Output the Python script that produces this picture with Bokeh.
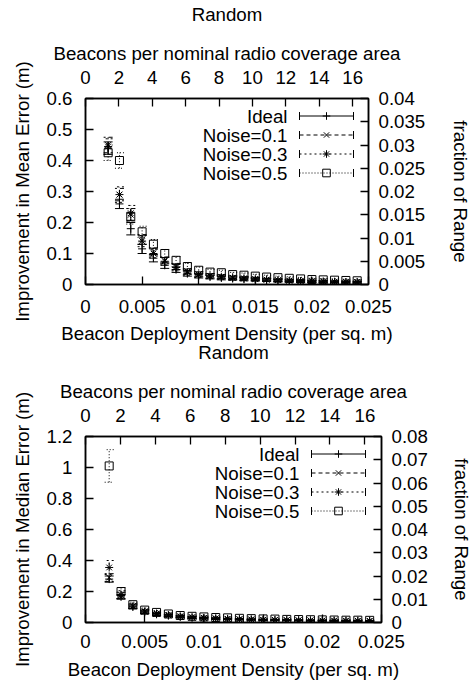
from bokeh.plotting import figure
from bokeh.models import (LinearAxis, Range1d, FixedTicker, ColumnDataSource,
                          Whisker, TeeHead, Legend, LegendItem, Label, BoxAnnotation)
from bokeh.embed import file_html
from bokeh.resources import INLINE

FONT = "Liberation Sans"
FS = "18.7px"

# ---------------- data ----------------
density = [0.002, 0.003, 0.004, 0.005, 0.006, 0.007, 0.008, 0.009, 0.010, 0.011,
           0.012, 0.013, 0.014, 0.015, 0.016, 0.017, 0.018, 0.019, 0.020, 0.021,
           0.022, 0.023, 0.024]
series_names = ["Ideal", "Noise=0.1", "Noise=0.3", "Noise=0.5"]

mean_ideal = [0.44, 0.26, 0.18, 0.115, 0.085, 0.062, 0.048, 0.035, 0.028, 0.024,
              0.021, 0.019, 0.017, 0.015, 0.014, 0.012, 0.011, 0.010, 0.009, 0.008,
              0.008, 0.007, 0.007]
mean_n01 = [0.45, 0.29, 0.225, 0.145, 0.105, 0.078, 0.058, 0.042, 0.033, 0.028,
            0.025, 0.022, 0.020, 0.018, 0.016, 0.014, 0.013, 0.012, 0.011, 0.010,
            0.009, 0.009, 0.008]
mean_n03 = [0.445, 0.29, 0.23, 0.14, 0.10, 0.075, 0.055, 0.040, 0.032, 0.027,
            0.024, 0.021, 0.019, 0.017, 0.015, 0.014, 0.012, 0.011, 0.010, 0.010,
            0.009, 0.008, 0.008]
mean_n05 = [0.425, 0.40, 0.22, 0.17, 0.13, 0.10, 0.078, 0.058, 0.046, 0.040,
            0.038, 0.032, 0.030, 0.027, 0.024, 0.022, 0.020, 0.018, 0.016, 0.015,
            0.014, 0.013, 0.012]

mean_err_ideal = [0.02, 0.015, 0.02, 0.015, 0.012, 0.010, 0.009, 0.008, 0.007, 0.006,
                  0.006, 0.005, 0.005, 0.004, 0.004, 0.004, 0.003, 0.003, 0.003, 0.003,
                  0.003, 0.003, 0.003]
mean_err_n01 = [0.025, 0.02, 0.02, 0.016, 0.013, 0.011, 0.010, 0.009, 0.008, 0.007,
                0.006, 0.006, 0.005, 0.005, 0.004, 0.004, 0.004, 0.004, 0.003, 0.003,
                0.003, 0.003, 0.003]
mean_err_n03 = [0.025, 0.025, 0.025, 0.018, 0.014, 0.012, 0.011, 0.010, 0.009, 0.008,
                0.007, 0.006, 0.006, 0.005, 0.005, 0.005, 0.004, 0.004, 0.004, 0.004,
                0.003, 0.003, 0.003]
mean_err_n05 = [0.025, 0.025, 0.025, 0.018, 0.015, 0.013, 0.012, 0.011, 0.010, 0.009,
                0.008, 0.007, 0.007, 0.006, 0.006, 0.005, 0.005, 0.005, 0.004, 0.004,
                0.004, 0.004, 0.004]

median_ideal = [0.28, 0.165, 0.10, 0.066, 0.053, 0.044, 0.036, 0.031, 0.027, 0.024,
                0.022, 0.020, 0.018, 0.016, 0.015, 0.014, 0.013, 0.012, 0.012, 0.011,
                0.010, 0.010, 0.009]
median_n01 = [0.29, 0.175, 0.105, 0.070, 0.056, 0.046, 0.038, 0.033, 0.029, 0.026,
              0.023, 0.021, 0.019, 0.017, 0.016, 0.015, 0.014, 0.013, 0.012, 0.012,
              0.011, 0.011, 0.010]
median_n03 = [0.355, 0.18, 0.105, 0.072, 0.058, 0.048, 0.040, 0.034, 0.030, 0.027,
              0.024, 0.022, 0.020, 0.018, 0.017, 0.016, 0.015, 0.014, 0.013, 0.012,
              0.012, 0.011, 0.011]
median_n05 = [1.01, 0.20, 0.115, 0.080, 0.065, 0.055, 0.045, 0.040, 0.036, 0.032,
              0.030, 0.027, 0.025, 0.023, 0.022, 0.020, 0.019, 0.018, 0.017, 0.016,
              0.015, 0.015, 0.014]

median_err_ideal = [0.02, 0.015, 0.012, 0.010, 0.008, 0.007, 0.006, 0.005, 0.005, 0.004,
                    0.004, 0.004, 0.003, 0.003, 0.003, 0.003, 0.003, 0.003, 0.003, 0.003,
                    0.003, 0.003, 0.003]
median_err_n01 = [0.025, 0.02, 0.014, 0.011, 0.009, 0.008, 0.007, 0.006, 0.005, 0.005,
                  0.004, 0.004, 0.004, 0.004, 0.003, 0.003, 0.003, 0.003, 0.003, 0.003,
                  0.003, 0.003, 0.003]
median_err_n03 = [0.045, 0.025, 0.015, 0.012, 0.010, 0.008, 0.007, 0.006, 0.006, 0.005,
                  0.005, 0.004, 0.004, 0.004, 0.004, 0.003, 0.003, 0.003, 0.003, 0.003,
                  0.003, 0.003, 0.003]
median_err_n05 = [0.105, 0.025, 0.016, 0.013, 0.011, 0.009, 0.008, 0.007, 0.006, 0.006,
                  0.005, 0.005, 0.005, 0.004, 0.004, 0.004, 0.004, 0.003, 0.003, 0.003,
                  0.003, 0.003, 0.003]

density_ticks = [0, 0.005, 0.01, 0.015, 0.02, 0.025]
density_tick_labels = ["0", "0.005", "0.01", "0.015", "0.02", "0.025"]
beacon_ticks = [0, 2, 4, 6, 8, 10, 12, 14, 16]
beacon_tick_labels = ["0", "2", "4", "6", "8", "10", "12", "14", "16"]
mean_ticks = [0, 0.1, 0.2, 0.3, 0.4, 0.5, 0.6]
mean_tick_labels = ["0", "0.1", "0.2", "0.3", "0.4", "0.5", "0.6"]
mean_frac_ticks = [0, 0.005, 0.01, 0.015, 0.02, 0.025, 0.03, 0.035, 0.04]
mean_frac_tick_labels = ["0", "0.005", "0.01", "0.015", "0.02", "0.025", "0.03", "0.035", "0.04"]
median_ticks = [0, 0.2, 0.4, 0.6, 0.8, 1.0, 1.2]
median_tick_labels = ["0", "0.2", "0.4", "0.6", "0.8", "1", "1.2"]
median_frac_ticks = [0, 0.01, 0.02, 0.03, 0.04, 0.05, 0.06, 0.07, 0.08]
median_frac_tick_labels = ["0", "0.01", "0.02", "0.03", "0.04", "0.05", "0.06", "0.07", "0.08"]

DENSITY_MAX = 0.025
BEACONS_MAX = 16.95

markers = ["cross", "x", "asterisk", "square"]
dashes = ["solid", "4 3", "2 3", "1 2"]


def style_axis(ax, ticks, labels, label_standoff, axis_label_standoff):
    ax.ticker = FixedTicker(ticks=ticks)
    ax.major_label_overrides = {t: l for t, l in zip(ticks, labels)}
    ax.minor_tick_line_color = None
    ax.major_tick_in = 8
    ax.major_tick_out = 0
    ax.major_tick_line_width = 1.3
    ax.major_tick_line_color = "black"
    ax.axis_line_color = "black"
    ax.axis_line_width = 1.5
    ax.major_label_text_font = FONT
    ax.major_label_text_font_size = FS
    ax.major_label_text_color = "black"
    ax.axis_label_text_font = FONT
    ax.axis_label_text_font_size = FS
    ax.axis_label_text_font_style = "normal"
    ax.axis_label_text_color = "black"
    ax.major_label_standoff = label_standoff
    ax.axis_label_standoff = axis_label_standoff


def make_plot(height, border_top, border_bottom, border_right, ylabel, yticks, ylabels,
              ymax, fticks, flabels, fmax, vals, errs, right_als, bottom_ls, bottom_als,
              legend_x, legend_y):
    width = 474
    border_left = 85
    p = figure(width=width, height=height, output_backend="svg", toolbar_location=None,
               x_range=Range1d(0, DENSITY_MAX), y_range=Range1d(0, ymax),
               min_border_left=border_left, min_border_right=border_right,
               min_border_top=border_top, min_border_bottom=border_bottom,
               title=None)
    p.grid.visible = False
    p.outline_line_color = "black"
    p.outline_line_width = 1.5
    p.background_fill_color = "white"
    p.border_fill_alpha = 0

    p.extra_x_ranges = {"beacons": Range1d(0, BEACONS_MAX)}
    p.extra_y_ranges = {"frac": Range1d(0, fmax)}

    p.xaxis.axis_label = "Beacon Deployment Density (per sq. m)"
    style_axis(p.xaxis[0], density_ticks, density_tick_labels, bottom_ls, bottom_als)
    p.yaxis.axis_label = ylabel
    style_axis(p.yaxis[0], yticks, ylabels, 13, 11)

    top = LinearAxis(x_range_name="beacons",
                     axis_label="Beacons per nominal radio coverage area")
    style_axis(top, beacon_ticks, beacon_tick_labels, 15, 4)
    p.add_layout(top, "above")

    # chart title "Random", laid out outermost above the top axis
    title_axis = LinearAxis(x_range_name="beacons", axis_label="Random")
    style_axis(title_axis, [], [], 0, 15)
    title_axis.axis_line_color = None
    title_axis.major_tick_line_color = None
    p.add_layout(title_axis, "above")

    right = LinearAxis(y_range_name="frac", axis_label="fraction of Range")
    style_axis(right, fticks, flabels, 10, right_als)
    p.add_layout(right, "right")

    items = []
    for name, v, e, m, d in zip(series_names, vals, errs, markers, dashes):
        src = ColumnDataSource(dict(
            x=density, y=v,
            lower=[a - b for a, b in zip(v, e)],
            upper=[a + b for a, b in zip(v, e)]))
        seg = p.segment(x0="x", y0="lower", x1="x", y1="upper", source=src,
                        line_color="black", line_width=1, line_dash=d)
        wh = Whisker(base="x", upper="upper", lower="lower", source=src,
                     dimension="height", line_alpha=0,
                     upper_head=TeeHead(size=9, line_color="black", line_width=1, line_dash=d),
                     lower_head=TeeHead(size=9, line_color="black", line_width=1, line_dash=d))
        p.add_layout(wh)
        sc = p.scatter(x="x", y="y", source=src, marker=m, size=8,
                       line_color="black", fill_color=None, line_width=1)
        items.append(LegendItem(label=" ", renderers=[seg, sc]))

    # gnuplot-style key: text on the left, sample on the right
    row_h = 19
    glyph_w = 54
    leg = Legend(items=items, location=(legend_x, legend_y), glyph_width=glyph_w,
                 glyph_height=row_h, label_standoff=0, label_height=0, label_width=0,
                 label_text_font_size="1px", background_fill_alpha=0,
                 border_line_alpha=0, padding=0, spacing=0, margin=0)
    p.add_layout(leg)
    n = len(series_names)
    for i, name in enumerate(series_names):
        yc = legend_y + n * row_h - (i + 0.5) * row_h
        p.add_layout(Label(x=legend_x - 12, y=yc, x_units="screen", y_units="screen",
                           text=name, text_align="right", text_baseline="middle",
                           text_font=FONT, text_font_size=FS, text_color="black"))
        for cx in (legend_x, legend_x + glyph_w):
            p.add_layout(BoxAnnotation(left=cx, right=cx, bottom=yc - 4, top=yc + 4,
                                       left_units="screen", right_units="screen",
                                       bottom_units="screen", top_units="screen",
                                       fill_alpha=0, line_color="black", line_width=1,
                                       line_alpha=1))
    return p


p1 = make_plot(346, 98, 62, 99, "Improvement in Mean Error (m)", mean_ticks,
               mean_tick_labels, 0.6, mean_frac_ticks, mean_frac_tick_labels, 0.04,
               [mean_ideal, mean_n01, mean_n03, mean_n05],
               [mean_err_ideal, mean_err_n01, mean_err_n03, mean_err_n05],
               22, 15, 7, 214, 102)
p2 = make_plot(347, 99, 62, 88, "Improvement in Median Error (m)", median_ticks,
               median_tick_labels, 1.2, median_frac_ticks, median_frac_tick_labels, 0.08,
               [median_ideal, median_n01, median_n03, median_n05],
               [median_err_ideal, median_err_n01, median_err_n03, median_err_n05],
               20, 12, 8, 226, 102)
# the lower chart's title sits close under the upper chart, as in the reference
p2.styles = {"margin-top": "-9px"}

open("out.html", "w").write(file_html([p1, p2], INLINE))
